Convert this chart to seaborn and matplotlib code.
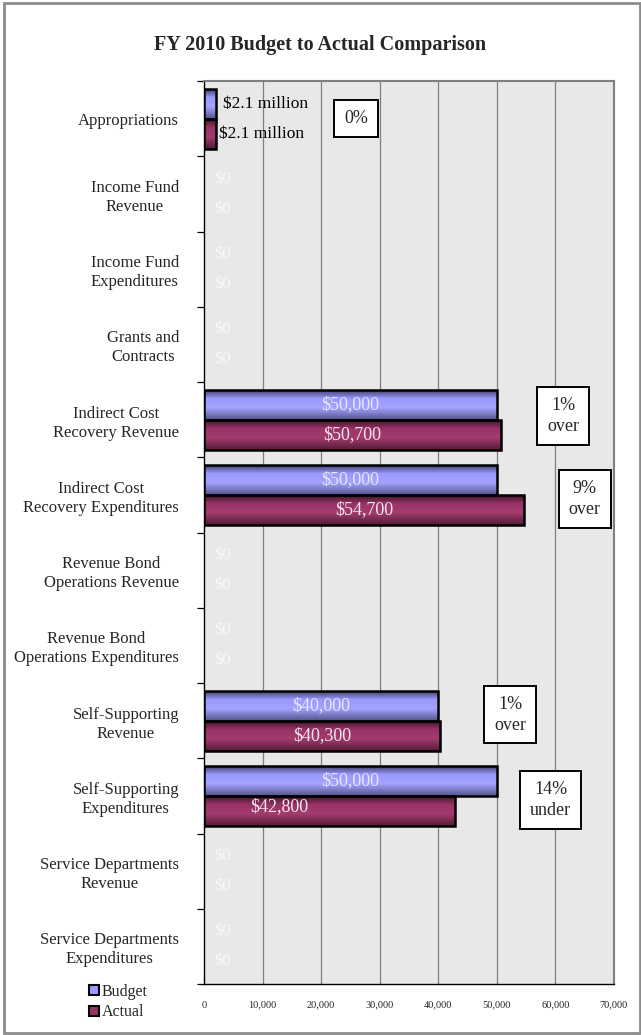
import numpy as np
import pandas as pd
import seaborn as sns
import matplotlib
matplotlib.use("Agg")
from matplotlib import pyplot as plt
from matplotlib.patches import Rectangle
from matplotlib.colors import LinearSegmentedColormap, to_rgb

categories = [
    "Appropriations",
    "Income Fund\nRevenue",
    "Income Fund\nExpenditures",
    "Grants and\nContracts",
    "Indirect Cost\nRecovery Revenue",
    "Indirect Cost\nRecovery Expenditures",
    "Revenue Bond\nOperations Revenue",
    "Revenue Bond\nOperations Expenditures",
    "Self-Supporting\nRevenue",
    "Self-Supporting\nExpenditures",
    "Service Departments\nRevenue",
    "Service Departments\nExpenditures",
]
budget = [2100, 0, 0, 0, 50000, 50000, 0, 0, 40000, 50000, 0, 0]
actual = [2100, 0, 0, 0, 50700, 54700, 0, 0, 40300, 42800, 0, 0]
budget_labels = ["$2.1 million", "$0", "$0", "$0", "$50,000", "$50,000", "$0", "$0",
                 "$40,000", "$50,000", "$0", "$0"]
actual_labels = ["$2.1 million", "$0", "$0", "$0", "$50,700", "$54,700", "$0", "$0",
                 "$40,300", "$42,800", "$0", "$0"]
# variance call-outs: (category index, text)
callouts = [(0, "0%"), (4, "1%\nover"), (5, "9%\nover"), (8, "1%\nover"), (9, "14%\nunder")]
callout_pos = {0: (26000, 0.0), 4: (61300, 3.95), 5: (65000, 5.05), 8: (52300, 7.92), 9: (59200, 9.05)}

BUDGET_C = "#9999ff"
ACTUAL_C = "#993366"
SERIF = ["Liberation Serif", "DejaVu Serif"]

df = pd.DataFrame({
    "category": categories * 2,
    "value": budget + actual,
    "series": ["Budget"] * len(categories) + ["Actual"] * len(categories),
})

sns.set_theme(style="white")
plt.rcParams["font.family"] = SERIF

fig = plt.figure(figsize=(6.41, 10.35), dpi=100)
ax = fig.add_axes([204 / 641, 51 / 1035, 410 / 641, 903 / 1035])
ax.set_facecolor("#e8e8e8")

sns.barplot(data=df, y="category", x="value", hue="series", order=categories,
            hue_order=["Budget", "Actual"], palette=[BUDGET_C, ACTUAL_C],
            orient="h", width=0.8, linewidth=0,
            legend=False, ax=ax, zorder=3)


def shade(color):
    # darker top/bottom, lighter middle, like the old 3D office bar fill
    c = np.array(to_rgb(color))
    return LinearSegmentedColormap.from_list(
        "s", [(0.0, c * 0.35), (0.3, c), (0.6, np.minimum(c * 1.02 + 0.03, 1)), (1.0, c * 0.55)])


cmaps = {BUDGET_C: shade(BUDGET_C), ACTUAL_C: shade(ACTUAL_C)}
grad = np.linspace(0, 1, 64).reshape(-1, 1)
for cont, color in zip(ax.containers, [BUDGET_C, ACTUAL_C]):
    for bar in cont:
        w = bar.get_width()
        if w <= 0:
            continue
        y0 = bar.get_y()
        h = bar.get_height()
        im = ax.imshow(grad, cmap=cmaps[color], aspect="auto",
                       extent=[0, w, y0 + h, y0], zorder=3.5)
        im.set_clip_path(bar)
        ax.add_patch(Rectangle((0, y0), w, h, fill=False, edgecolor="black",
                               linewidth=1.8, zorder=3.8))

ax.set_xlim(0, 70000)
ax.set_ylim(len(categories) - 0.5, -0.5)

# vertical gridlines
for gx in range(10000, 70001, 10000):
    ax.axvline(gx, color="#7f7f7f", linewidth=0.9, zorder=1)

# value labels
for i in range(len(categories)):
    if i == 0:
        ax.text(3300, i - 0.2, budget_labels[i], ha="left", va="center", fontsize=12.5, color="black", zorder=5)
        ax.text(2600, i + 0.2, actual_labels[i], ha="left", va="center", fontsize=12.5, color="black", zorder=5)
    elif budget[i] == 0:
        ax.text(1800, i - 0.2, budget_labels[i], ha="left", va="center", fontsize=12, color="white", alpha=0.7, zorder=5)
        ax.text(1800, i + 0.2, actual_labels[i], ha="left", va="center", fontsize=12, color="white", alpha=0.7, zorder=5)
    else:
        ax.text(budget[i] / 2, i - 0.2, budget_labels[i], ha="center", va="center", fontsize=13,
                color="#e6e6ff", zorder=5)
        ax_x = actual[i] / 2 if actual[i] >= budget[i] else actual[i] * 0.3
        ax_y = i + 0.2 if actual[i] >= budget[i] else i + 0.14
        ax.text(ax_x, ax_y, actual_labels[i], ha="center", va="center", fontsize=13,
                color="#f4e6ee", zorder=5)

for idx, txt in callouts:
    x, y = callout_pos[idx]
    ax.text(x, y, txt, ha="center", va="center", fontsize=13, linespacing=1.3, zorder=6,
            bbox=dict(boxstyle="square,pad=0.55", facecolor="white", edgecolor="black", linewidth=1.4),
            clip_on=False)

# axes styling
ax.set_xlabel("")
ax.set_ylabel("")
ax.set_xticks(range(0, 70001, 10000))
ax.set_xticklabels([f"{v:,}" for v in range(0, 70001, 10000)], fontsize=7.5)
ax.tick_params(axis="x", length=0, pad=12)
ax.set_yticks(np.arange(-0.5, len(categories), 1.0))
ax.set_yticklabels([])
ax.set_yticks(range(len(categories)), minor=True)
ax.set_yticklabels(categories, minor=True, fontsize=12, linespacing=1.25)
ax.tick_params(axis="y", which="major", left=True, length=5, width=0.9, color="black")
ax.tick_params(axis="y", which="minor", left=False, pad=14)
for lbl in ax.get_yticklabels(minor=True):
    lbl.set_multialignment("center")

for side in ["top", "right"]:
    ax.spines[side].set_color("#808080")
    ax.spines[side].set_linewidth(1.5)
for side in ["left", "bottom"]:
    ax.spines[side].set_color("black")
    ax.spines[side].set_linewidth(1.0)
    ax.spines[side].set_visible(True)

fig.text(0.5, 1 - 45 / 1035, "FY 2010 Budget to Actual Comparison", ha="center", va="center",
         fontsize=14.5, fontweight="bold")

handles = [Rectangle((0, 0), 1, 1, facecolor=BUDGET_C, edgecolor="black", linewidth=1.5),
           Rectangle((0, 0), 1, 1, facecolor=ACTUAL_C, edgecolor="black", linewidth=1.5)]
fig.legend(handles, ["Budget", "Actual"], loc="center left",
           bbox_to_anchor=(81 / 641, 1 - 1002 / 1035), frameon=False, fontsize=11.5,
           handlelength=0.6, handleheight=0.6, handletextpad=0.2, labelspacing=0.3,
           borderpad=0)

fig.patches.append(Rectangle((4 / 641, 2 / 1035), 636 / 641, 1030 / 1035, transform=fig.transFigure,
                             fill=False, edgecolor="#8c8c8c", linewidth=2))

fig.savefig("out.png", dpi=100)
